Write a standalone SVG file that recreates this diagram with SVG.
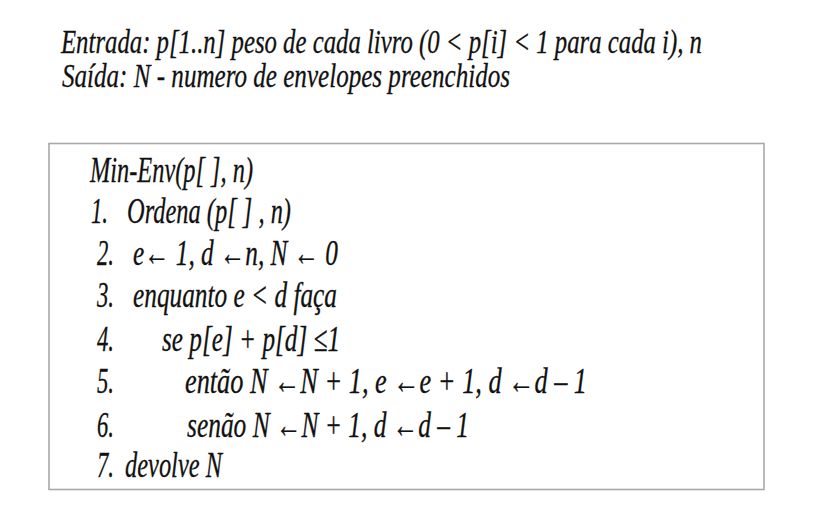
<svg xmlns="http://www.w3.org/2000/svg" width="817" height="513" viewBox="0 0 817 513">
<style>
.h{font-family:"Liberation Serif","DejaVu Serif",serif;font-style:italic;font-size:34px;fill:#111;stroke:#111;stroke-width:0.3}
.c{font-family:"Liberation Serif","DejaVu Serif",serif;font-style:italic;font-size:36px;fill:#111;stroke:#111;stroke-width:0.3}
.box{fill:#fff;stroke:#a9a9a9;stroke-width:1.6}
</style>
<rect width="817" height="513" fill="#fff"/>
<g id="header">
<g transform="translate(61,53) scale(0.7,1)"><text class="h" x="0" y="0" textLength="915.7" lengthAdjust="spacingAndGlyphs">Entrada:  p[1..n]  peso de cada livro (0 &lt; p[i] &lt; 1 para cada i), n</text></g>
<g transform="translate(62,87) scale(0.7,1)"><text class="h" x="0" y="0" textLength="640" lengthAdjust="spacingAndGlyphs">Saída: N - numero de envelopes preenchidos</text></g>
</g>
<g id="algorithm">
<rect class="box" x="49" y="143.5" width="715" height="346"/>
<text class="c" x="90" y="182" textLength="163" lengthAdjust="spacingAndGlyphs">Min-Env(p[ ], n)</text>
<text class="c" x="91" y="223" textLength="17" lengthAdjust="spacingAndGlyphs">1.</text>
<text class="c" x="127" y="223" textLength="164" lengthAdjust="spacingAndGlyphs">Ordena (p[ ] , n)</text>
<text class="c" x="97" y="265" textLength="17" lengthAdjust="spacingAndGlyphs">2.</text>
<text class="c" x="133" y="265" textLength="205" lengthAdjust="spacingAndGlyphs">e← 1, d ←n, N ← 0</text>
<text class="c" x="97" y="307" textLength="17" lengthAdjust="spacingAndGlyphs">3.</text>
<text class="c" x="133" y="307" textLength="204" lengthAdjust="spacingAndGlyphs">enquanto e &lt; d  faça</text>
<text class="c" x="97" y="351" textLength="17" lengthAdjust="spacingAndGlyphs">4.</text>
<text class="c" x="162" y="351" textLength="178" lengthAdjust="spacingAndGlyphs">se p[e] + p[d] ≤1</text>
<text class="c" x="97" y="393" textLength="17" lengthAdjust="spacingAndGlyphs">5.</text>
<text class="c" x="185" y="393" textLength="402" lengthAdjust="spacingAndGlyphs">então N ←N + 1, e ←e + 1, d ←d – 1</text>
<text class="c" x="97" y="437" textLength="17" lengthAdjust="spacingAndGlyphs">6.</text>
<text class="c" x="187" y="437" textLength="282" lengthAdjust="spacingAndGlyphs">senão N ←N + 1, d ←d – 1</text>
<text class="c" x="97" y="477" textLength="17" lengthAdjust="spacingAndGlyphs">7.</text>
<text class="c" x="125" y="477" textLength="97" lengthAdjust="spacingAndGlyphs">devolve N</text>
</g>
</svg>
